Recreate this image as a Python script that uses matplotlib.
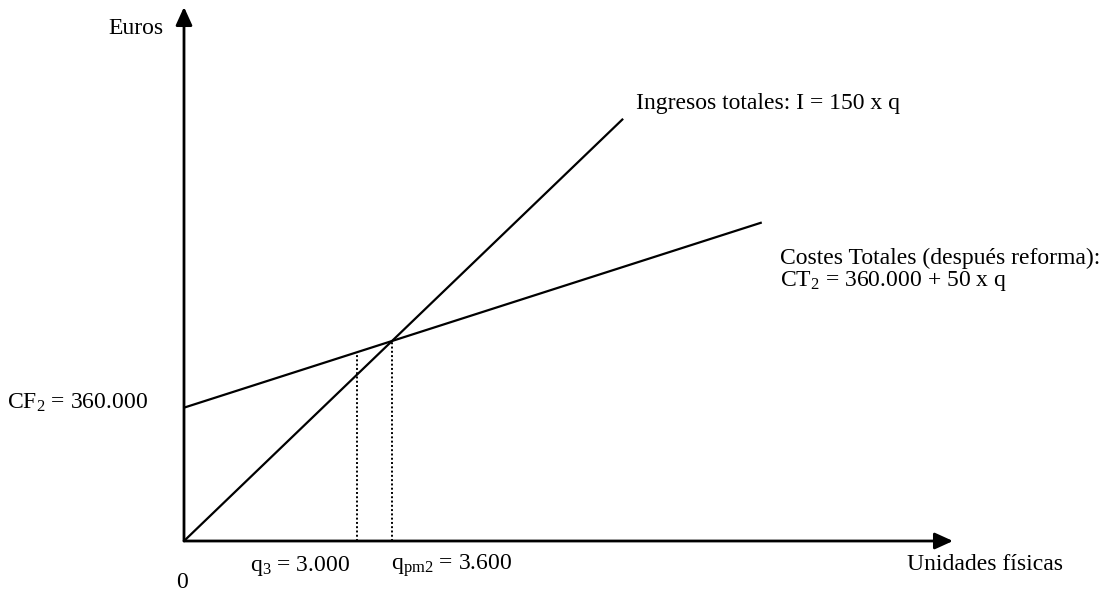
import matplotlib
matplotlib.use("Agg")
import matplotlib.pyplot as plt
import numpy as np

# ---- data ----
fixed_cost = 360000          # CF2
price = 150                  # I = 150 x q
unit_cost = 50               # CT2 = 360.000 + 50 x q
q3 = 3000
q_pm2 = 3600
q_end_income = 7600
q_end_cost = 10000

plt.rcParams['font.family'] = ['Liberation Serif', 'DejaVu Serif']
plt.rcParams['mathtext.fontset'] = 'custom'
plt.rcParams['mathtext.rm'] = 'Liberation Serif'
plt.rcParams['mathtext.it'] = 'Liberation Serif:italic'

W, H = 1113, 595
fig = plt.figure(figsize=(W / 100, H / 100), dpi=100)
ox, oy = 184, 541           # origin in pixels (from top-left)
xr, yt = 953, 7             # arrow tips
xs = q_pm2 / 208.0          # units per pixel
ys = (price * q_pm2) / 200.0
ax = fig.add_axes([ox / W, (H - oy) / H, (xr - ox) / W, (oy - yt) / H])
xmax = (xr - ox) * xs
ymax = (oy - yt) * ys
ax.set_xlim(0, xmax)
ax.set_ylim(0, ymax)
ax.axis('off')


def P(px, py):
    """pixel position -> data coordinates (layout helper for labels)"""
    return (px - ox) * xs, (oy - py) * ys


# axes with arrows
arrow = dict(arrowstyle='-|>,head_length=1.1,head_width=0.5', lw=2, color='black',
             mutation_scale=10, shrinkA=0, shrinkB=0)
ax.annotate('', xy=(xmax, 0), xytext=(0, 0), arrowprops=arrow, annotation_clip=False)
ax.annotate('', xy=(0, ymax), xytext=(0, 0), arrowprops=arrow, annotation_clip=False)

# lines
qi = np.array([0, q_end_income])
ax.plot(qi, price * qi, color='black', lw=1.6, solid_capstyle='butt')
qc = np.array([0, q_end_cost])
ax.plot(qc, fixed_cost + unit_cost * qc, color='black', lw=1.6, solid_capstyle='butt')

# dotted guides
for q in (q3, q_pm2):
    ax.plot([q, q], [0, fixed_cost + unit_cost * q], color='black', lw=1.4,
            linestyle=(0, (1, 1.2)))

fs = 17
kw = dict(fontsize=fs, va='center', clip_on=False)
ax.text(*P(163, 28), 'Euros', ha='right', **kw)
ax.text(*P(148, 403), 'CF$_{\\mathrm{2}}$ = 360.000', ha='right', **kw)
ax.text(*P(182, 583), '0', ha='center', **kw)
ax.text(*P(250, 566), 'q$_{\\mathrm{3}}$ = 3.000', ha='left', **kw)
ax.text(*P(391, 566), 'q$_{\\mathrm{pm2}}$ = 3.600', ha='left', **kw)
ax.text(*P(1063, 565), 'Unidades físicas', ha='right', **kw)
ax.text(*P(636, 103), 'Ingresos totales: I = 150 x q', ha='left', **kw)
ax.text(*P(780, 258), 'Costes Totales (después reforma):', ha='left', **kw)
ax.text(*P(780, 281), 'CT$_{\\mathrm{2}}$ = 360.000 + 50 x q', ha='left', **kw)

fig.savefig('out.png', dpi=100)
